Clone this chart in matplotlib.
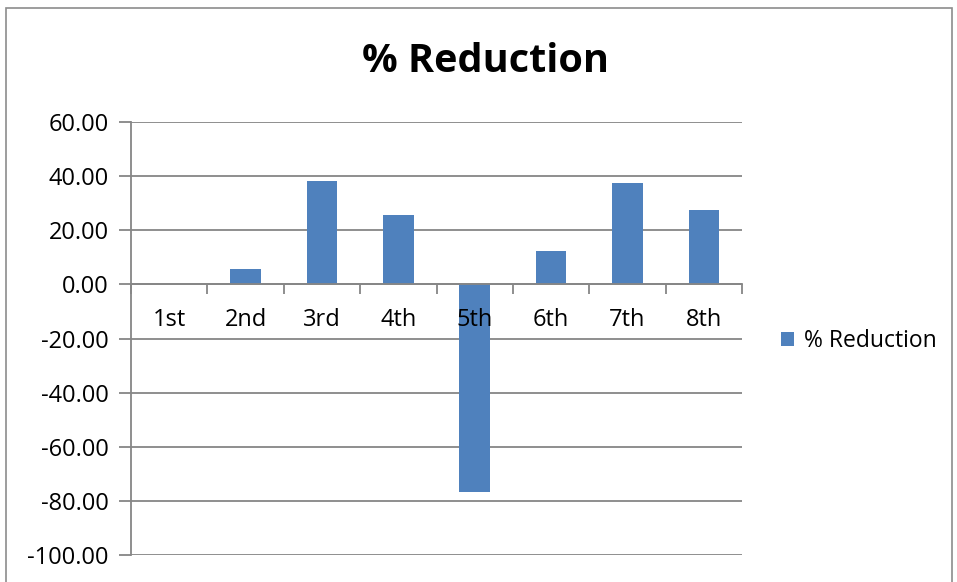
import matplotlib
matplotlib.use("Agg")
import matplotlib.pyplot as plt
from matplotlib.patches import Rectangle, Patch

# Data
categories = ["1st", "2nd", "3rd", "4th", "5th", "6th", "7th", "8th"]
reduction = [0.0, 5.5, 38.2, 25.6, -76.8, 12.2, 37.3, 27.4]
y_ticks = [60, 40, 20, 0, -20, -40, -60, -80, -100]
series_name = "% Reduction"

BAR = "#4F81BD"
GRID = "#868686"
FONT = ["Open Sans", "DejaVu Sans"]
FS = 17

W, H = 957, 582
fig = plt.figure(figsize=(W / 100, H / 100), dpi=100)
fig.patch.set_facecolor("white")

# chart frame
fig.add_artist(Rectangle((6 / W, -0.05), 946 / W, 1.05 - 8 / H,
                         transform=fig.transFigure, fill=False,
                         edgecolor="#8c8c8c", linewidth=1.2))

ax = fig.add_axes([131 / W, 1 - 555 / H, (742 - 131) / W, (555 - 122) / H])
x = list(range(len(categories)))
ax.bar(x, reduction, width=0.4, color=BAR, zorder=3)

ax.set_xlim(-0.5, len(categories) - 0.5)
ax.set_ylim(-100, 60)
ax.set_yticks(y_ticks)
ax.set_yticklabels([f"{v:.2f}" for v in y_ticks], fontsize=FS, family=FONT)
ax.yaxis.grid(True, color=GRID, linewidth=1.3, zorder=0)
ax.tick_params(axis="y", length=9, width=1.3, color=GRID, pad=7)

# category axis crossing at zero, ticks on category boundaries
ax.spines["bottom"].set_position(("data", 0))
ax.set_xticks([i - 0.5 for i in range(len(categories) + 1)])
ax.set_xticklabels([])
ax.tick_params(axis="x", which="major", length=7, width=1.3, color=GRID, direction="out")

# category names sit on top of the bars
for i, cat in enumerate(categories):
    ax.annotate(cat, xy=(i, 0), xytext=(0, -26), textcoords="offset points",
                ha="center", va="center", fontsize=FS, family=FONT,
                zorder=6, annotation_clip=False)

for s in ["top", "right"]:
    ax.spines[s].set_visible(False)
for s in ["left", "bottom"]:
    ax.spines[s].set_color(GRID)
    ax.spines[s].set_linewidth(1.3)
    ax.spines[s].set_zorder(4)

fig.text(485 / W, 1 - 62 / H, series_name, ha="center", va="center",
         fontsize=28.5, fontweight="bold", family=FONT)

fig.legend(handles=[Patch(facecolor=BAR, label=series_name)],
           loc="center left", bbox_to_anchor=(760 / W, 1 - 341 / H),
           frameon=False, prop={"family": FONT, "size": 16.5},
           handlelength=0.6, handleheight=0.6, handletextpad=0.4)

fig.savefig("out.png", dpi=100)
